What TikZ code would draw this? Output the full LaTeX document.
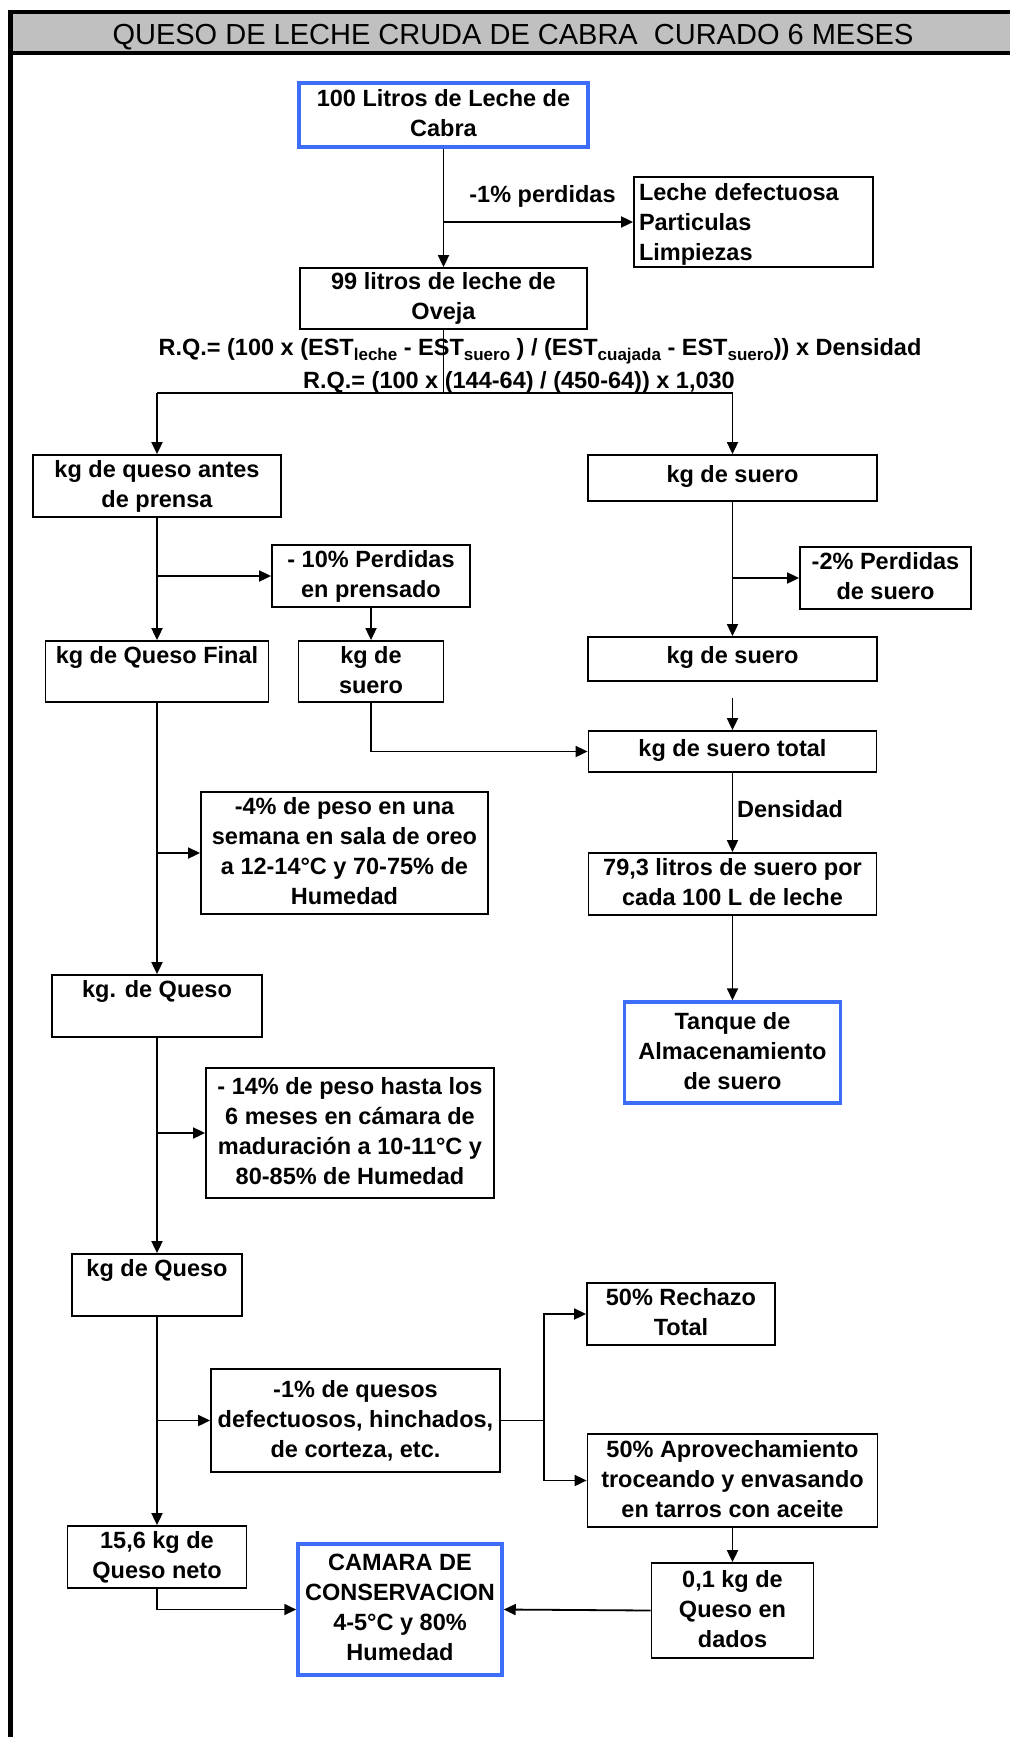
\documentclass[tikz,border=0pt]{standalone}
\usepackage{fontspec}
\setmainfont{Liberation Sans}
\usetikzlibrary{arrows.meta,calc}
\definecolor{hdrgray}{RGB}{192,192,192}
\definecolor{boxblue}{RGB}{60,110,250}
\newcommand{\bx}{\fontsize{23.5pt}{30pt}\selectfont\bfseries}
\newcommand{\st}{\rule[-4pt]{0pt}{26pt}}
\newcommand{\sto}{\rule[-8pt]{0pt}{22pt}}
\newcommand{\sbs}[1]{\raisebox{-0.22em}{\fontsize{17pt}{17pt}\selectfont #1}}
\begin{document}
\begin{tikzpicture}[x=1pt,y=-1pt,
  basebox/.style={draw=black, line width=1.8pt, inner sep=0pt, align=center, font=\bx},
  box/.style={basebox, execute at begin node=\st},
  onebox/.style={basebox, execute at begin node=\sto},
  bluebox/.style={box, draw=boxblue, line width=3.5pt},
  lbl/.style={font=\bx, inner sep=0pt},
  ln/.style={line width=1.8pt},
  arr/.style={line width=1.8pt, -{Triangle[length=12pt,width=11pt]}}]
\useasboundingbox (0,0) rectangle (1010,1737);
% frame and header
\fill[hdrgray] (8,14) rectangle (1010,51);
\draw[line width=4pt] (8,12) -- (1010,12);
\draw[line width=4pt] (8,53) -- (1010,53);
\draw[line width=5pt] (10.5,10) -- (10.5,1737);
\node[font=\fontsize{29pt}{34pt}\selectfont, inner sep=0pt] (title) at (513,37) {QUESO DE LECHE CRUDA DE CABRA \ CURADO 6 MESES};

% boxes
\node[bluebox, minimum width=289pt, minimum height=64pt] (leche100) at (443.5,115) {100 Litros de Leche de\\\st Cabra};
\node[box, align=left, text width=229pt, inner xsep=5pt, minimum width=239pt, minimum height=90pt] (perd) at (753.5,222) {Leche defectuosa\\\st Particulas\\\st Limpiezas};
\node[box, minimum width=287pt, minimum height=61pt] (litros99) at (443.5,298.5) {99 litros de leche de\\\st Oveja};
\node[lbl] (rq1) at (540,351) {R.Q.= (100 x (EST\sbs{leche} - EST\sbs{suero} ) / (EST\sbs{cuajada} - EST\sbs{suero})) x Densidad};
\node[lbl] (rq2) at (519,382) {R.Q.= (100 x (144-64) / (450-64)) x 1,030};

\node[box, minimum width=248pt, minimum height=62pt] (antes) at (157,486) {kg de queso antes\\\st de prensa};
\node[onebox, minimum width=289pt, minimum height=46pt] (suero1) at (732.5,478) {kg de suero};
\node[box, minimum width=198pt, minimum height=62pt] (prensado) at (371,576) {- 10\% Perdidas\\\st en prensado};
\node[box, minimum width=171pt, minimum height=62pt] (perd2) at (885.5,578) {-2\% Perdidas\\\st de suero};
\node[box, minimum width=223pt, minimum height=61pt] (final) at (157,671.5) {kg de Queso Final\\\st};
\node[box, minimum width=145pt, minimum height=61pt] (sueromid) at (371,671.5) {kg de\\\st suero};
\node[onebox, minimum width=289pt, minimum height=44pt] (suero2) at (732.5,659) {kg de suero};
\node[onebox, minimum width=288pt, minimum height=41pt] (total) at (732.5,751.5) {kg de suero total};
\node[box, minimum width=287pt, minimum height=122pt] (oreo) at (344.5,853) {-4\% de peso en una\\\st semana en sala de oreo\\\st a 12-14°C y 70-75\% de\\\st Humedad};
\node[box, minimum width=288pt, minimum height=62pt] (litros79) at (732.5,884) {79,3 litros de suero por\\\st cada 100 L de leche};
\node[bluebox, minimum width=216pt, minimum height=101pt] (tanque) at (732.5,1052.5) {Tanque de\\\st Almacenamiento\\\st de suero};
\node[box, minimum width=210pt, minimum height=62pt] (queso1) at (157,1006) {kg. de Queso\\\st};
\node[box, minimum width=288pt, minimum height=130pt] (madur) at (350,1133) {- 14\% de peso hasta los\\\st 6 meses en cámara de\\\st maduración a 10-11°C y\\\st 80-85\% de Humedad};
\node[box, minimum width=170pt, minimum height=62pt] (queso2) at (157,1285) {kg de Queso\\\st};
\node[box, minimum width=289pt, minimum height=103pt] (defect) at (355.5,1420.5) {-1\% de quesos\\\st defectuosos, hinchados,\\\st de corteza, etc.};
\node[box, minimum width=188pt, minimum height=62pt] (rechazo) at (681,1314) {50\% Rechazo\\\st Total};
\node[box, minimum width=290pt, minimum height=93pt] (aprov) at (732.5,1480.5) {50\% Aprovechamiento\\\st troceando y envasando\\\st en tarros con aceite};
\node[box, minimum width=179pt, minimum height=62pt] (neto) at (157,1557) {15,6 kg de\\\st Queso neto};
\node[bluebox, minimum width=204pt, minimum height=131pt] (camara) at (400,1609.5) {CAMARA DE\\\st CONSERVACION\\\st 4-5°C y 80\%\\\st Humedad};
\node[box, minimum width=162pt, minimum height=95pt] (dados) at (732.5,1610.5) {0,1 kg de\\\st Queso en\\\st dados};

% connectors
\draw[arr] (leche100.south) -- (leche100.south |- litros99.north);
\coordinate (bp) at (leche100.south |- perd.west);
\draw[arr] (bp) -- (perd.west);
\node[lbl] (lp) at (542.5,196) {-1\% perdidas};

\coordinate (sC) at (443.5,393);
\coordinate (sL) at (157,393);
\coordinate (sR) at (732.5,393);
\draw[ln] (litros99.south) -- (sC);
\draw[ln] (sL) -- (sR);
\draw[arr] (sL) -- (antes.north);
\draw[arr] (sR) -- (suero1.north);

\draw[arr] (antes.south) -- (final.north);
\coordinate (b2) at (antes.south |- prensado.west);
\draw[arr] (b2) -- (prensado.west);
\draw[arr] (prensado.south) -- (sueromid.north);
\draw[arr] (sueromid.south) |- (total.west);

\draw[arr] (suero1.south) -- (suero2.north);
\coordinate (b3) at (suero1.south |- perd2.west);
\draw[arr] (b3) -- (perd2.west);
\coordinate (c4) at (732.5,698);
\draw[arr] (c4) -- (total.north);
\draw[arr] (total.south) -- (litros79.north);
\node[lbl, anchor=west] (dens) at (737,809) {Densidad};
\draw[arr] (litros79.south) -- (tanque.north);

\draw[arr] (final.south) -- (queso1.north);
\coordinate (b5) at (final.south |- oreo.west);
\draw[arr] (b5) -- (oreo.west);
\draw[arr] (queso1.south) -- (queso2.north);
\coordinate (b6) at (queso1.south |- madur.west);
\draw[arr] (b6) -- (madur.west);
\draw[arr] (queso2.south) -- (neto.north);
\coordinate (b7) at (queso2.south |- defect.west);
\draw[arr] (b7) -- (defect.west);
\coordinate (jn) at ([xshift=43pt]defect.east);
\draw[ln] (defect.east) -- (jn);
\draw[arr] (jn) |- (rechazo.west);
\draw[arr] (jn) |- (aprov.west);
\draw[arr] (aprov.south) -- (dados.north);
\draw[arr] (neto.south) |- (camara.west);
\draw[arr] (dados.west) -- (camara.east);
\end{tikzpicture}
\end{document}
